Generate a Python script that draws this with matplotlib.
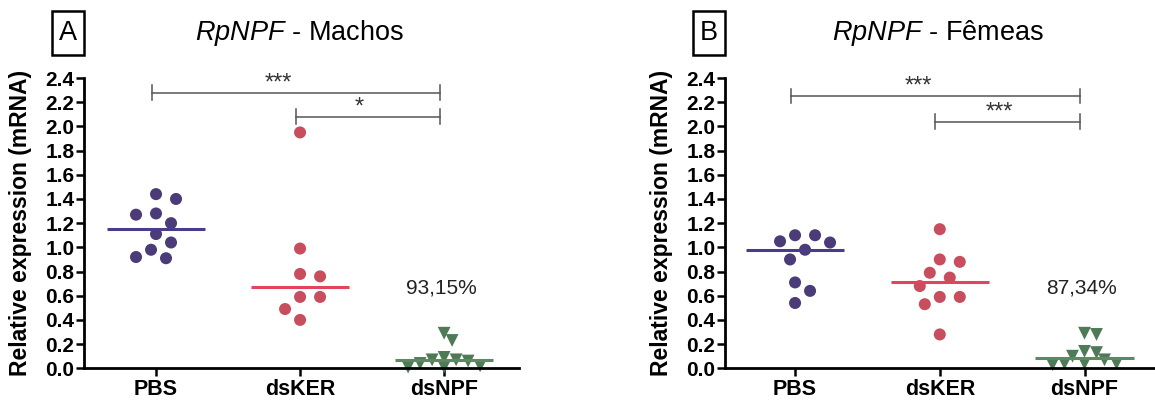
import numpy as np
import matplotlib.pyplot as plt
from matplotlib.patches import Rectangle

plt.rcParams['font.family'] = ['Liberation Sans', 'DejaVu Sans']
plt.rcParams['mathtext.fontset'] = 'custom'
plt.rcParams['mathtext.it'] = 'Liberation Sans:italic'
plt.rcParams['mathtext.rm'] = 'Liberation Sans'

# Groups and relative expression values
groups = ['PBS', 'dsKER', 'dsNPF']

male_pbs = [1.44, 1.40, 1.28, 1.27, 1.20, 1.11, 1.04, 0.98, 0.92, 0.91]
male_dsker = [1.95, 0.99, 0.78, 0.76, 0.59, 0.59, 0.49, 0.40]
male_dsnpf = [0.29, 0.23, 0.09, 0.07, 0.07, 0.06, 0.04, 0.02, 0.01, 0.01]

female_pbs = [1.10, 1.10, 1.05, 1.04, 0.98, 0.90, 0.71, 0.64, 0.54]
female_dsker = [1.15, 0.90, 0.88, 0.79, 0.75, 0.68, 0.59, 0.59, 0.53, 0.28]
female_dsnpf = [0.29, 0.28, 0.14, 0.13, 0.10, 0.07, 0.04, 0.04, 0.04, 0.03]

knockdown = ['93,15%', '87,34%']
panel_titles = ['Machos', 'Fêmeas']
panel_letters = ['A', 'B']

# significance brackets: (group from, group to, stars)
male_sig = [(0, 2, '***'), (1, 2, '*')]
female_sig = [(0, 2, '***'), (1, 2, '***')]

dot_colors = ['#4B3B78', '#C84E5E', '#4E7A57']
line_colors = ['#4A3C8C', '#E3435C', '#5A8A60']
markers = ['o', 'o', 'v']

W, H = 1155, 403


def swarm(vals, xscale, yscale, gap=14.0, step=5.0):
    # simple beeswarm: nudge points sideways until they stop overlapping
    vals = np.asarray(vals)
    placed = []
    offs = np.zeros(len(vals))
    cands = [0.0]
    for n in range(1, 40):
        cands += [n * step, -n * step]
    for i in np.argsort(vals)[::-1]:
        y = vals[i] * yscale
        for c in cands:
            if all((c - px) ** 2 + (y - py) ** 2 >= gap ** 2 for px, py in placed):
                break
        placed.append((c, y))
        offs[i] = c / xscale
    return offs


fig = plt.figure(figsize=(W / 100, H / 100), dpi=100)

panels = [
    ([male_pbs, male_dsker, male_dsnpf], male_sig, (84, 435), (-0.5, 2.52), [2.28, 2.08]),
    ([female_pbs, female_dsker, female_dsnpf], female_sig, (725, 430), (-0.484, 2.487), [2.25, 2.04]),
]

y0_px, h_px = 34.7, 290.3
for k, (data, sig, (left, width), xlim, bar_y) in enumerate(panels):
    ax = fig.add_axes([left / W, y0_px / H, width / W, h_px / H])
    ax.set_xlim(*xlim)
    ax.set_ylim(0, 2.4)
    xscale = width / (xlim[1] - xlim[0])
    yscale = h_px / 2.4

    for i, vals in enumerate(data):
        if markers[i] == 'o':
            offs = swarm(vals, xscale, yscale, gap=16.0, step=5.0)
        else:
            offs = swarm(vals, xscale, yscale, gap=9.5, step=4.0)
        ax.scatter(i + offs, vals, s=75 if markers[i] == 'o' else 85,
                   marker=markers[i], color=dot_colors[i], edgecolor='none',
                   clip_on=False, zorder=2)
        med = np.median(vals)
        ax.plot([i - 0.34, i + 0.34], [med, med], color=line_colors[i],
                lw=2.2, solid_capstyle='butt', zorder=3, clip_on=False)

    # significance brackets
    for (a, b, stars), yb in zip(sig, bar_y):
        xa, xb = a - 0.03, b - 0.03
        ax.plot([xa, xb], [yb, yb], color='#555555', lw=1.1)
        for xe in (xa, xb):
            ax.plot([xe, xe], [yb - 0.06, yb + 0.06], color='#555555', lw=1.1)
        ax.text((xa + xb) / 2 - 0.06 * (b - a), yb - 0.015, stars,
                ha='center', va='bottom', fontsize=17, color='#333333')

    ax.text(2 - 0.02, 0.66, knockdown[k], ha='center', va='center',
            fontsize=15, color='#222222')

    for s in ('top', 'right'):
        ax.spines[s].set_visible(False)
    for s in ('left', 'bottom'):
        ax.spines[s].set_linewidth(2.0)
        ax.spines[s].set_zorder(4)

    ax.set_yticks(np.arange(0, 2.41, 0.2))
    ax.set_yticklabels([f'{v:.1f}' for v in np.arange(0, 2.41, 0.2)],
                       fontsize=15, fontweight='bold')
    ax.set_xticks(range(len(groups)))
    ax.set_xticklabels(groups, fontsize=15.5, fontweight='bold')
    ax.tick_params(axis='both', direction='out', length=6, width=1.8, pad=1.0)
    ax.tick_params(axis='x', pad=2)

    ax.set_ylabel('Relative expression (mRNA)', fontsize=16.5, fontweight='bold')
    ax.yaxis.set_label_coords(-0.12, 0.50)

    cx = (left + width / 2 - 2) / W
    fig.text(cx, 1 - 33 / H, r'$RpNPF$ - ' + panel_titles[k], ha='center',
             va='center', fontsize=19.5)
    # boxed panel letter
    bx, bw, by, bh = left - 32, 32, 11, 44
    fig.patches.append(Rectangle((bx / W, 1 - (by + bh) / H), bw / W, bh / H,
                                 transform=fig.transFigure, fc='white',
                                 ec='black', lw=1.8))
    fig.text((bx + bw / 2) / W, 1 - (by + bh / 2) / H, panel_letters[k],
             ha='center', va='center', fontsize=19.5)

fig.savefig('out.png', dpi=100)
